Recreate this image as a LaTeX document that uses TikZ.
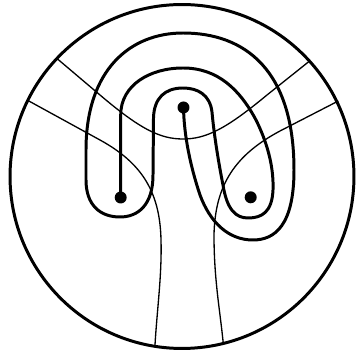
\documentclass[tikz,border=0pt]{standalone}
\usetikzlibrary{calc}

\begin{document}
\begin{tikzpicture}[
    x=0.02cm, y=-0.02cm,
    rim/.style      = {line width=1.7pt, draw=black},
    strand/.style   = {line width=1.7pt, draw=black, line cap=round, line join=round},
    arcline/.style  = {line width=0.75pt, draw=black},
    puncture/.style = {circle, fill=black, inner sep=0pt, minimum size=0.24cm}
  ]

% =========================================================
% Frame: picture box and the boundary circle
% =========================================================
\useasboundingbox (0,0) rectangle (356,351);
\draw[rim] (182,176.5) circle [radius=3.44cm];

% =========================================================
% Punctures
% =========================================================
\node[puncture] (pleft)  at (120.7,197.5) {};
\node[puncture] (ptop)   at (183.5,107.5) {};
\node[puncture] (pright) at (250.7,197.3) {};

% =========================================================
% Thin arcs (ends on the boundary circle)
% =========================================================
\coordinate (uL) at (56.7,58.3);
\coordinate (uR) at (310,60.7);
\coordinate (lL) at (28.3,100.7);
\coordinate (lR) at (338.3,101);
\coordinate (bL) at (155,345);
\coordinate (bR) at (223.3,343.7);

\draw[arcline] (uL) -- (100,95) .. controls (140,129) and (160,139) ..
  (183,139) .. controls (206,139) and (226,129) .. (267,95) -- (uR);
\draw[arcline] (lL) -- (100,140) .. controls (140,162) and (160,190) ..
  (161,240) .. controls (162,275) and (157,310) .. (bL);
\draw[arcline] (lR) -- (280,131) .. controls (235,155) and (215,185) ..
  (214,235) .. controls (214,280) and (220,310) .. (bR);

% =========================================================
% Thick strand: from left puncture round to top puncture
% =========================================================
\draw[strand] (pleft.center) -- (120.7,115)
  .. controls (120.7,85) and (150,68) .. (183,68)
  .. controls (218,68) and (240,90) .. (256,120)
  .. controls (266,140) and (274,165) .. (273,190)
  .. controls (272,212) and (262,218) .. (248,218)
  .. controls (236,218) and (227,210) .. (223,185)
  .. controls (219,165) and (214,135) .. (212,112)
  .. controls (210,95) and (198,88) .. (183,88)
  .. controls (165,88) and (154,98) .. (153.5,118)
  -- (153,175)
  .. controls (153,205) and (138,217) .. (120,217)
  .. controls (100,217) and (86,205) .. (86,180)
  -- (86,150)
  .. controls (86,70) and (130,33) .. (183,33)
  .. controls (245,33) and (294,70) .. (294,170)
  .. controls (294,225) and (275,240) .. (253,240)
  .. controls (228,240) and (210,222) .. (200,195)
  .. controls (190,165) and (184,135) .. (ptop.center);

\end{tikzpicture}
\end{document}
